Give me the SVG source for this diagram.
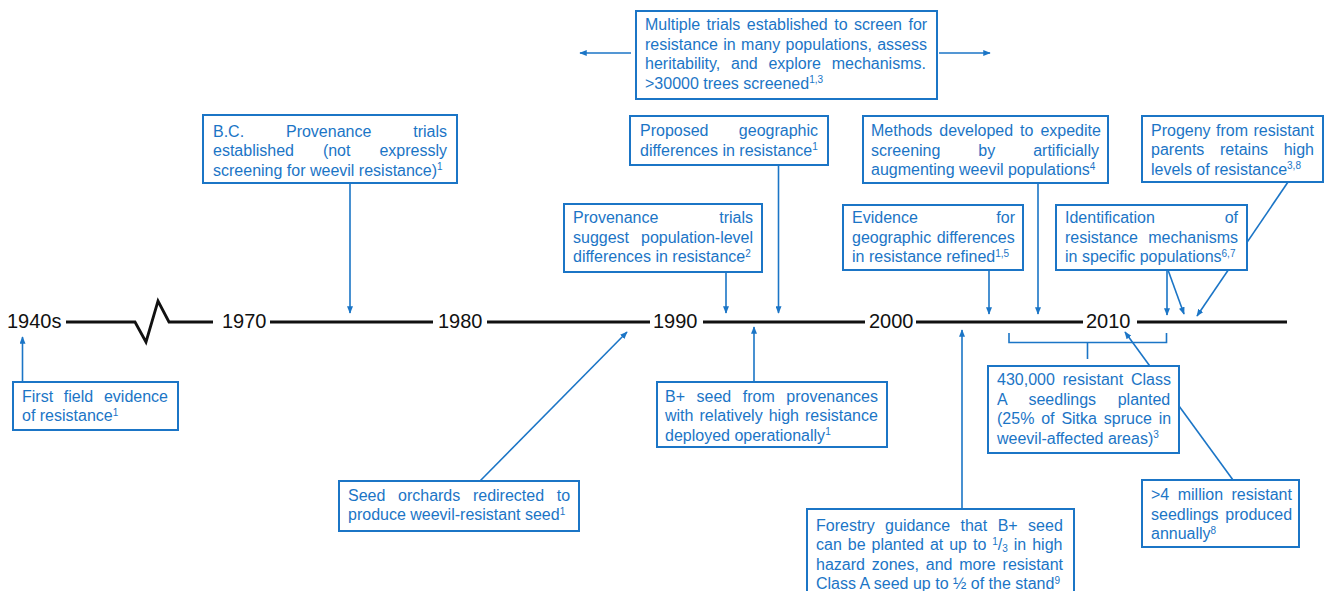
<svg xmlns="http://www.w3.org/2000/svg" width="1326" height="591" viewBox="0 0 1326 591">
  <style>
    .box { fill: #ffffff; stroke: #1b75c6; stroke-width: 2; }
    .t { font-family: "Liberation Sans", Arial, sans-serif; font-size: 16px; fill: #1b75c6; }
    .yr { font-family: "Liberation Sans", Arial, sans-serif; font-size: 20px; fill: #111111; }
    .axis { fill: none; stroke: #111111; stroke-width: 2.8; stroke-linejoin: miter; }
    .c { fill: none; stroke: #1b75c6; stroke-width: 1.6; }
    .ca { fill: none; stroke: #1b75c6; stroke-width: 1.6; marker-end: url(#ah); }
  </style>
  <defs>
    <marker id="ah" viewBox="0 0 10 8" refX="9" refY="4" markerWidth="7.5" markerHeight="6" markerUnits="userSpaceOnUse" orient="auto">
      <path d="M0,0 L10,4 L0,8 z" fill="#1b75c6"/>
    </marker>
  </defs>

  <!-- time axis -->
  <g id="axis">
    <path class="axis" d="M66,322 H135 L146,342 L158,301 L169,322 H213"/>
    <path class="axis" d="M270,322 H433 M487,322 H650 M703,322 H865 M916,322 H1083 M1137,322 H1287"/>
    <text class="yr" x="7" y="328">1940s</text>
    <text class="yr" x="222" y="328">1970</text>
    <text class="yr" x="438" y="328">1980</text>
    <text class="yr" x="653" y="328">1990</text>
    <text class="yr" x="869" y="328">2000</text>
    <text class="yr" x="1086" y="328">2010</text>
  </g>

  <!-- connectors -->
  <g id="connectors">
    <line class="ca" x1="631" y1="53" x2="580" y2="53"/>
    <line class="ca" x1="939" y1="53" x2="990" y2="53"/>
    <line class="ca" x1="22.5" y1="382" x2="22.5" y2="337"/>
    <line class="ca" x1="350" y1="183" x2="350" y2="313"/>
    <line class="ca" x1="726" y1="272" x2="726" y2="313"/>
    <line class="ca" x1="778.5" y1="165" x2="778.5" y2="313"/>
    <line class="ca" x1="754" y1="382" x2="754" y2="327"/>
    <line class="ca" x1="480" y1="481" x2="627" y2="332"/>
    <line class="ca" x1="962" y1="509" x2="962" y2="330"/>
    <line class="ca" x1="1038" y1="183" x2="1038" y2="314"/>
    <line class="ca" x1="989" y1="270" x2="989" y2="314"/>
    <line class="ca" x1="1288" y1="182" x2="1197" y2="316"/>
    <line class="ca" x1="1167" y1="270" x2="1167" y2="315"/>
    <line class="ca" x1="1168" y1="270" x2="1184" y2="314"/>
    <line class="ca" x1="1233" y1="480" x2="1125" y2="332"/>
    <path class="c" d="M1009,333 V342.5 H1166.5 V333 M1087.5,342.5 V359"/>
  </g>

  <g id="trials-screening">
    <rect class="box" x="636" y="11" width="301" height="88"/>
    <text class="t" x="645" y="30" word-spacing="2">Multiple trials established to screen for</text>
    <text class="t" x="645" y="49.5" word-spacing="0.9">resistance in many populations, assess</text>
    <text class="t" x="645" y="69" word-spacing="6.3">heritability, and explore mechanisms.</text>
    <text class="t" x="645" y="88.5">&gt;30000 trees screened<tspan font-size="10" dy="-5.5">1,3</tspan></text>
  </g>

  <g id="first-field-evidence">
    <rect class="box" x="13" y="382" width="165" height="48"/>
    <text class="t" x="22" y="401.5" word-spacing="6.3">First field evidence</text>
    <text class="t" x="22" y="421">of resistance<tspan font-size="10" dy="-5.5">1</tspan></text>
  </g>

  <g id="bc-provenance-trials">
    <rect class="box" x="203" y="115" width="254" height="68"/>
    <text class="t" x="213" y="136.5" word-spacing="37.4">B.C. Provenance trials</text>
    <text class="t" x="213" y="156" word-spacing="24.5">established (not expressly</text>
    <text class="t" x="213" y="175.5">screening for weevil resistance)<tspan font-size="10" dy="-5.5">1</tspan></text>
  </g>

  <g id="population-differences">
    <rect class="box" x="564" y="204" width="198" height="68"/>
    <text class="t" x="573" y="223" word-spacing="56.4">Provenance trials</text>
    <text class="t" x="573" y="242.5" word-spacing="7.5">suggest population-level</text>
    <text class="t" x="573" y="262">differences in resistance<tspan font-size="10" dy="-5.5">2</tspan></text>
  </g>

  <g id="proposed-geographic">
    <rect class="box" x="630" y="116" width="198" height="49"/>
    <text class="t" x="640" y="136" word-spacing="25.9">Proposed geographic</text>
    <text class="t" x="640" y="155.5">differences in resistance<tspan font-size="10" dy="-5.5">1</tspan></text>
  </g>

  <g id="bplus-seed">
    <rect class="box" x="657" y="382" width="230" height="65"/>
    <text class="t" x="665" y="401.5" word-spacing="7.1">B+ seed from provenances</text>
    <text class="t" x="665" y="421" word-spacing="1.6">with relatively high resistance</text>
    <text class="t" x="665" y="440.5">deployed operationally<tspan font-size="10" dy="-5.5">1</tspan></text>
  </g>

  <g id="seed-orchards">
    <rect class="box" x="339" y="481" width="240" height="50"/>
    <text class="t" x="348" y="500.5" word-spacing="8.2">Seed orchards redirected to</text>
    <text class="t" x="348" y="520">produce weevil-resistant seed<tspan font-size="10" dy="-5.5">1</tspan></text>
  </g>

  <g id="forestry-guidance">
    <rect class="box" x="807" y="509" width="267" height="100"/>
    <text class="t" x="816" y="530.5" word-spacing="6">Forestry guidance that B+ seed</text>
    <text class="t" x="816" y="550" word-spacing="1.5">can be planted at up to <tspan font-size="10" dy="-5.5">1</tspan><tspan dy="5.5">/</tspan><tspan font-size="10" dy="2">3</tspan><tspan dy="-2"> in high</tspan></text>
    <text class="t" x="816" y="569.5" word-spacing="2.4">hazard zones, and more resistant</text>
    <text class="t" x="816" y="589">Class A seed up to ½ of the stand<tspan font-size="10" dy="-5.5">9</tspan></text>
  </g>

  <g id="screening-methods">
    <rect class="box" x="863" y="116" width="245" height="67"/>
    <text class="t" x="871" y="136" word-spacing="2.5">Methods developed to expedite</text>
    <text class="t" x="871" y="155.5" word-spacing="33.5">screening by artificially</text>
    <text class="t" x="871" y="175">augmenting weevil populations<tspan font-size="10" dy="-5.5">4</tspan></text>
  </g>

  <g id="geographic-evidence">
    <rect class="box" x="843" y="205" width="180" height="65"/>
    <text class="t" x="852" y="223" word-spacing="74.1">Evidence for</text>
    <text class="t" x="852" y="242.5" word-spacing="1.1">geographic differences</text>
    <text class="t" x="852" y="262">in resistance refined<tspan font-size="10" dy="-5.5">1,5</tspan></text>
  </g>

  <g id="progeny-resistance">
    <rect class="box" x="1142" y="116" width="181" height="66"/>
    <text class="t" x="1151" y="135.5" word-spacing="1">Progeny from resistant</text>
    <text class="t" x="1151" y="155" word-spacing="11.2">parents retains high</text>
    <text class="t" x="1151" y="174.5">levels of resistance<tspan font-size="10" dy="-5.5">3,8</tspan></text>
  </g>

  <g id="resistance-mechanisms">
    <rect class="box" x="1056" y="205" width="191" height="65"/>
    <text class="t" x="1065" y="223" word-spacing="65.4">Identification of</text>
    <text class="t" x="1065" y="242.5" word-spacing="5.8">resistance mechanisms</text>
    <text class="t" x="1065" y="262">in specific populations<tspan font-size="10" dy="-5.5">6,7</tspan></text>
  </g>

  <g id="class-a-planted">
    <rect class="box" x="988" y="366" width="191" height="87"/>
    <text class="t" x="997" y="385" word-spacing="3.4">430,000 resistant Class</text>
    <text class="t" x="997" y="404.5" word-spacing="17.2">A seedlings planted</text>
    <text class="t" x="997" y="424" word-spacing="2.4">(25% of Sitka spruce in</text>
    <text class="t" x="997" y="443.5">weevil-affected areas)<tspan font-size="10" dy="-5.5">3</tspan></text>
  </g>

  <g id="annual-production">
    <rect class="box" x="1142" y="480" width="157" height="67"/>
    <text class="t" x="1151" y="500" word-spacing="4">&gt;4 million resistant</text>
    <text class="t" x="1151" y="519.5" word-spacing="2.3">seedlings produced</text>
    <text class="t" x="1151" y="539">annually<tspan font-size="10" dy="-5.5">8</tspan></text>
  </g>
</svg>
